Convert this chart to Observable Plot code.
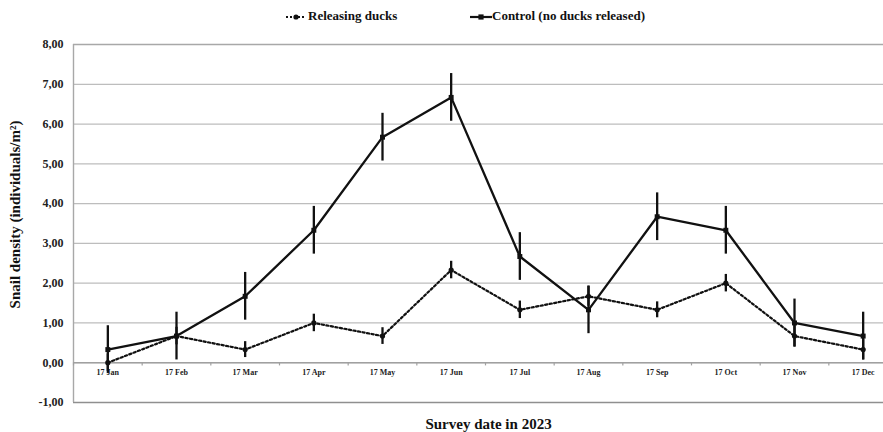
<!DOCTYPE html>
<html>
<head>
<meta charset="utf-8">
<script src="https://cdn.jsdelivr.net/npm/d3@7"></script>
<script src="https://cdn.jsdelivr.net/npm/@observablehq/plot@0.6"></script>
<style>
  body { margin: 0; background: #fff; font-family: "Liberation Serif", "Times New Roman", serif; }
  #wrap { position: relative; width: 883px; height: 432px; overflow: hidden; }
  #legend { position: absolute; top: 0; left: 0; width: 883px; height: 30px; font-weight: bold; font-size: 13px; color: #111; }
  #legend .sym { position: absolute; top: 12px; }
  #legend .lab { position: absolute; top: 8px; white-space: nowrap; }
</style>
</head>
<body>
<div id="wrap">
  <div id="legend">
    <svg class="sym" style="left:285px" width="22" height="10">
      <line x1="1" y1="5" x2="21" y2="5" stroke="#111" stroke-width="2" stroke-dasharray="2,2"/>
      <circle cx="11" cy="5" r="2.6" fill="#111"/>
    </svg>
    <span class="lab" style="left:308px">Releasing ducks</span>
    <svg class="sym" style="left:470px" width="22" height="10">
      <line x1="0" y1="5" x2="22" y2="5" stroke="#111" stroke-width="2.2"/>
      <rect x="8.4" y="2.4" width="5.2" height="5.2" fill="#111"/>
    </svg>
    <span class="lab" style="left:492px">Control (no ducks released)</span>
  </div>
</div>
<script>
// Survey months (17th of each month, 2023)
const months = ["17 Jan", "17 Feb", "17 Mar", "17 Apr", "17 May", "17 Jun",
                "17 Jul", "17 Aug", "17 Sep", "17 Oct", "17 Nov", "17 Dec"];

// Snail density, individuals/m², with standard errors
const ducks    = [0.00, 0.67, 0.33, 1.00, 0.67, 2.33, 1.33, 1.67, 1.33, 2.00, 0.67, 0.33];
const ducksSE  = [0.22, 0.22, 0.20, 0.22, 0.21, 0.22, 0.22, 0.25, 0.20, 0.22, 0.28, 0.26];
const control  = [0.33, 0.67, 1.67, 3.33, 5.67, 6.67, 2.67, 1.33, 3.67, 3.33, 1.00, 0.67];
const controlSE= [0.60, 0.60, 0.60, 0.60, 0.60, 0.60, 0.60, 0.60, 0.60, 0.60, 0.60, 0.60];

const yTicks = [-1, 0, 1, 2, 3, 4, 5, 6, 7, 8];

const yTitle = "Snail density (individuals/m²)";
const xTitle = "Survey date in 2023";

const rows = (vals, se) => vals.map((v, i) => ({i, v, lo: v - se[i], hi: v + se[i]}));
const ducksRows = rows(ducks, ducksSE);
const controlRows = rows(control, controlSE);
const boundaries = d3.range(months.length + 1).map(k => k - 0.5);

const ink = "#111";

const chart = Plot.plot({
  width: 883,
  height: 432,
  marginLeft: 73,
  marginRight: -14,
  marginTop: 44,
  marginBottom: 30,
  style: {fontFamily: "Liberation Serif, Times New Roman, serif", background: "transparent", overflow: "visible"},
  x: {type: "linear", domain: [-0.5, months.length - 0.5], axis: null},
  y: {domain: [-1, 8], axis: null},
  marks: [
    Plot.gridY(yTicks.filter(d => d > -1 && d < 8), {stroke: "#bdbdbd", strokeOpacity: 1, strokeWidth: 1.3}),
    Plot.ruleY([8], {stroke: "#a8a8a8", strokeWidth: 1.4}),
    Plot.ruleY([-1], {stroke: "#8f8f8f", strokeWidth: 1.6}),
    Plot.ruleX([-0.5], {stroke: "#a8a8a8", strokeWidth: 1.4}),
    Plot.ruleY([0], {stroke: "#a0a0a0", strokeWidth: 1.4}),
    Plot.ruleX(boundaries, {y1: 0, y2: -0.08, stroke: "#a0a0a0", strokeWidth: 1.2}),
    Plot.axisY(yTicks, {
      tickSize: 0, tickPadding: 10, label: null,
      tickFormat: d => d.toFixed(2).replace(".", ","),
      fontSize: 12, fontWeight: "bold", fill: "#222"
    }),
    Plot.text(months, {x: (d, i) => i, y: 0, dy: 10, text: d => d, fontSize: 8, fontWeight: "bold", fill: "#222"}),
    // error bars
    Plot.ruleX(controlRows, {x: "i", y1: "lo", y2: "hi", stroke: ink, strokeWidth: 2.3}),
    Plot.ruleX(ducksRows, {x: "i", y1: "lo", y2: "hi", stroke: ink, strokeWidth: 2.3}),
    // series lines
    Plot.line(ducksRows, {x: "i", y: "v", stroke: ink, strokeWidth: 2.2, strokeDasharray: "2.2,2.4"}),
    Plot.line(controlRows, {x: "i", y: "v", stroke: ink, strokeWidth: 2.3}),
    Plot.dot(ducksRows, {x: "i", y: "v", r: 2.6, fill: ink, symbol: "circle"}),
    Plot.dot(controlRows, {x: "i", y: "v", r: 2.8, fill: ink, symbol: "square"}),
    // axis titles
    Plot.text([yTitle], {frameAnchor: "left", textAnchor: "middle", rotate: -90, dx: -58, dy: -9, text: d => d,
      fontSize: 15, fontWeight: "bold", fill: "#111"}),
    Plot.text([xTitle], {frameAnchor: "bottom", textAnchor: "middle", dx: 3, dy: 26, text: d => d,
      fontSize: 15, fontWeight: "bold", fill: "#111"})
  ]
});

document.getElementById("wrap").prepend(chart);
</script>
</body>
</html>
